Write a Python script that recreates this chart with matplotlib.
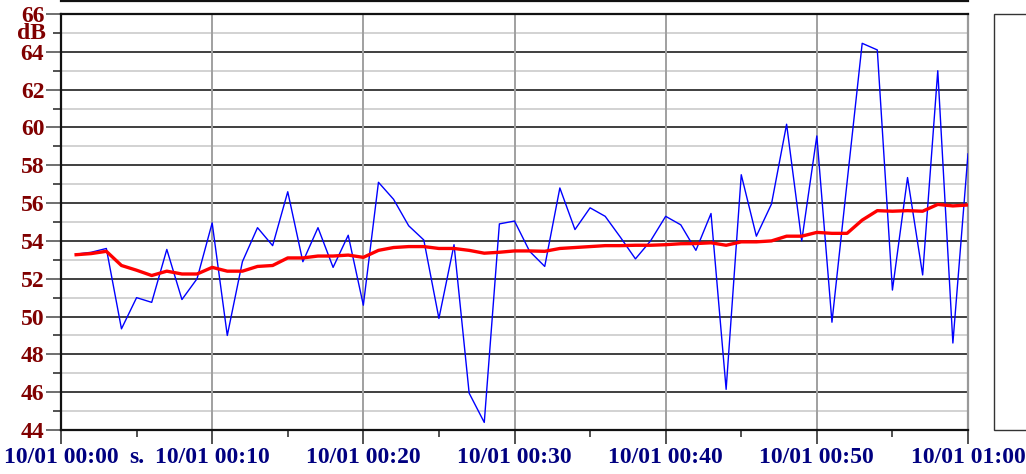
import matplotlib
matplotlib.use("Agg")
import matplotlib.pyplot as plt
from matplotlib.patches import Rectangle
from matplotlib.lines import Line2D
import numpy as np

minutes = list(range(1, 61))
level_db = [53.3, 53.4, 53.6, 49.35, 51.0, 50.75, 53.55, 50.9, 52.0, 54.95,
            49.0, 52.9, 54.7, 53.75, 56.6, 52.9, 54.7, 52.6, 54.3, 50.6,
            57.1, 56.2, 54.8, 54.05, 49.9, 53.8, 45.95, 44.4, 54.9, 55.05,
            53.45, 52.65, 56.8, 54.6, 55.75, 55.3, 54.2, 53.05, 54.0, 55.3,
            54.85, 53.5, 55.45, 46.15, 57.5, 54.25, 55.95, 60.17, 54.0, 59.55,
            49.7, 57.1, 64.45, 64.1, 51.4, 57.35, 52.2, 63.0, 48.6, 58.6]
leq_db = [53.27, 53.33, 53.45, 52.7, 52.45, 52.17, 52.4, 52.25, 52.25, 52.6,
          52.4, 52.4, 52.65, 52.7, 53.1, 53.1, 53.2, 53.2, 53.25, 53.13,
          53.5, 53.65, 53.7, 53.7, 53.6, 53.6, 53.5, 53.35, 53.4, 53.47,
          53.47, 53.45, 53.6, 53.65, 53.7, 53.75, 53.75, 53.77, 53.77, 53.8,
          53.85, 53.86, 53.9, 53.77, 53.95, 53.95, 54.0, 54.25, 54.25, 54.45,
          54.4, 54.4, 55.1, 55.6, 55.57, 55.6, 55.57, 55.93, 55.85, 55.9]

x_major = [0, 10, 20, 30, 40, 50, 60]
x_labels = ["10/01 00:00", "10/01 00:10", "10/01 00:20", "10/01 00:30",
            "10/01 00:40", "10/01 00:50", "10/01 01:00"]
x_minor = [5, 15, 25, 35, 45, 55]
y_major = list(range(44, 67, 2))
y_minor = list(range(45, 66, 2))
y_unit = "dB"
x_unit = "s."

W, H = 1026, 474
fig = plt.figure(figsize=(W / 100, H / 100), dpi=100)
fig.patch.set_facecolor("white")
ax = fig.add_axes([61 / W, 1 - 430 / H, (968 - 61) / W, (430 - 14) / H])

ax.set_xlim(0, 60)
ax.set_ylim(44, 66)

for v in y_minor:
    ax.axhline(v, color="#cfcfcf", lw=1.3, zorder=1)
for v in y_major:
    ax.axhline(v, color="#303030", lw=1.3, zorder=1)
for v in x_major[1:-1]:
    ax.axvline(v, color="#a0a0a0", lw=1.4, zorder=1)

ax.plot(minutes, level_db, color="#0000ff", lw=1.0, zorder=3)
ax.plot(minutes, leq_db, color="#ff0000", lw=2.4, zorder=4, solid_joinstyle="round")

ax.set_yticks(y_major)
ax.set_yticks(y_minor, minor=True)
ax.set_xticks(x_major)
ax.set_xticklabels(x_labels)
ax.set_xticks(x_minor, minor=True)

FS = 17
font = dict(family="Liberation Serif", weight="bold", size=FS)
for lab in ax.get_yticklabels():
    lab.set_color("#800000")
    lab.set_fontproperties(font)
for lab in ax.get_xticklabels():
    lab.set_color("#000080")
    lab.set_fontproperties(font)

ax.tick_params(axis="y", which="major", length=11, width=1.2, color="#555555", pad=1)
ax.tick_params(axis="y", which="minor", length=6, width=1.2, color="#333333")
ax.tick_params(axis="x", which="major", length=10, width=1.2, color="#333333", pad=2)
ax.tick_params(axis="x", which="minor", length=5, width=1.2, color="#333333")

for s in ["left", "bottom", "top"]:
    ax.spines[s].set_color("#111111")
    ax.spines[s].set_linewidth(1.6)
ax.spines["right"].set_color("#999999")
ax.spines["right"].set_linewidth(1.6)

ax.text(-0.017, 64.95, y_unit, transform=ax.get_yaxis_transform(), ha="right", va="center",
        color="#800000", fontsize=FS, family="Liberation Serif", weight="bold")
ax.text(5, -0.04, x_unit, transform=ax.get_xaxis_transform(), ha="center", va="top",
        color="#000080", fontsize=FS, family="Liberation Serif", weight="bold")

# top rule
fig.add_artist(Line2D([61 / W, 968 / W], [1 - 0.8 / H, 1 - 0.8 / H], color="#111111", lw=1.6))
# legend frame
fig.add_artist(Rectangle((994 / W, 1 - 430 / H), 60 / W, (430 - 14) / H,
                         facecolor="white", edgecolor="#333333", lw=1.0))

fig.savefig("out.png", dpi=100)
